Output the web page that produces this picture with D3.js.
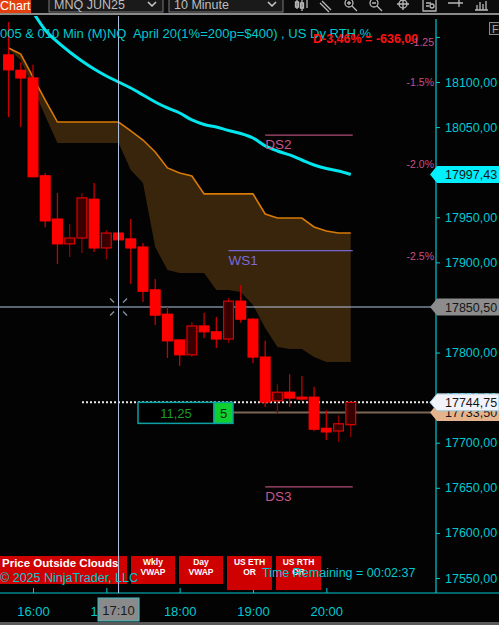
<!DOCTYPE html>
<html>
<head>
<meta charset="utf-8">
<script src="https://cdn.jsdelivr.net/npm/d3@7"></script>
<style>
body { margin: 0; background: #000; overflow: hidden; }
svg { display: block; font-family: "Liberation Sans", Arial, sans-serif; }
</style>
</head>
<body>
<svg id="chart" width="499" height="625"></svg>
<script>
// 10 minute bars, MNQ JUN25
var times = ["15:40","15:50","16:00","16:10","16:20","16:30","16:40","16:50","17:00","17:10",
             "17:20","17:30","17:40","17:50","18:00","18:10","18:20","18:30","18:40","18:50",
             "19:00","19:10","19:20","19:30","19:40","19:50","20:00","20:10","20:20"];
var opens  = [18130, 18113, 18104.5, 17996, 17948, 17920.5, 17927, 17970, 17916, 17932.5,
              17926, 17917, 17869.5, 17842.5, 17814, 17797.5, 17829.5, 17823, 17815, 17857,
              17837, 17795, 17746.5, 17756, 17750.5, 17750.5, 17716, 17713, 17720];
var highs  = [18166.5, 18122, 18119, 17999, 17977, 17942.5, 17977, 17988, 17936, 17933,
              17948, 17921.5, 17881.5, 17850.5, 17814, 17834, 17844, 17839.5, 17860.5, 17875,
              17838, 17813, 17765, 17776, 17774, 17762, 17736, 17730.5, 17746];
var lows   = [18061, 18050, 17994.5, 17939, 17898, 17906, 17910.5, 17911.5, 17903.5, 17924.5,
              17876, 17856, 17830.5, 17794, 17785, 17795, 17816, 17805, 17810.5, 17833,
              17788.5, 17739.5, 17732, 17740, 17746.5, 17713, 17703, 17701, 17706];
var closes = [18113.5, 18104.5, 17995, 17946, 17920.5, 17927, 17971.5, 17916, 17932.5, 17925,
              17916, 17868, 17841.5, 17813, 17797.5, 17829.5, 17823, 17815, 17857, 17837,
              17795, 17745, 17756, 17749.5, 17748.5, 17715, 17712, 17721, 17744.75];

// cloud band
var cloudTop = [18137.7, 18131, 18105.5, 18080, 18055.6, 18055.6, 18055.6, 18055.6, 18055.6, 18055.6,
                18045.7, 18035.7, 18022.4, 18004.7, 17999.1, 17995.8, 17975.9, 17975.9, 17975.9, 17975.9,
                17975.9, 17953.6, 17949.2, 17949.2, 17949.2, 17939.2, 17934.8, 17932.6, 17932.6];
var cloudBottom = [18136.6, 18124.4, 18093.3, 18062.3, 18032.4, 18032.4, 18032.4, 18032.4, 18032.4, 18032.4,
                   18002.4, 17988, 17917, 17891.5, 17888.2, 17888.2, 17888.2, 17869.4, 17869.4, 17867.1,
                   17852.7, 17827.2, 17806.1, 17803.9, 17803.9, 17795.1, 17789.5, 17789.5, 17789.5];

// cyan average line
var avgLine = [null, null, 18177.6, 18157.7, 18144.4, 18133.3, 18123.3, 18114.4, 18106.7, 18100,
               18093.3, 18085.6, 18077.8, 18071.2, 18065.6, 18057.9, 18052.9, 18050.1, 18046.2, 18042.9,
               18037.9, 18029.1, 18023.5, 18019.1, 18013.5, 18008, 18004.1, 18001.3, 17997.43];

// pivot levels
var levelNames  = ["DS2", "WS1", "DS3"];
var levelPrices = [18041, 17913, 17651];
var levelStart  = ["19:10", "18:40", "19:10"];

// axis ticks
var yTicks = [17550, 17600, 17650, 17700, 17750, 17800, 17850, 17900, 17950, 18000, 18050, 18100, 18150];
var xTicks = ["16:00", "17:00", "18:00", "19:00", "20:00"];

// percent labels
var pctLabels = ["-1.25", "-1.5%", "-2.0%", "-2.5%"];
var pctPrices = [18144, 18100, 18009, 17907];

// price markers on the axis
var markerPrices = [17997.43, 17850.50, 17733.50, 17744.75];
var crossPrice = 17850.50;
var crossTime = "17:10";
var lastPrice = 17744.75;
var ticksLeft = "11,25";
var barCount = "5";

var buttons = [["Wkly", "VWAP"], ["Day", "VWAP"], ["US ETH", "OR"], ["US RTH", "OR"]];

var svg = d3.select("#chart");
var W = 499, H = 625;
var axisX = 436, plotTop = 16, plotBottom = 593;
var cyan = "#00c8d0";

var parseT = d3.timeParse("%H:%M");
var x = d3.scaleTime().domain([parseT("16:00"), parseT("20:00")]).range([33, 326.3]);
var y = d3.scaleLinear().domain([17550, 18100]).range([578, 82]);
var step = x(parseT("16:10")) - x(parseT("16:00"));
var fmt = function(v) { return d3.format(".2f")(v).replace(".", ","); };

var bars = times.map(function(t, i) {
  return { t: parseT(t), o: opens[i], h: highs[i], l: lows[i], c: closes[i],
           top: cloudTop[i], bot: cloudBottom[i], v: avgLine[i] };
});

svg.append("rect").attr("width", W).attr("height", H).attr("fill", "#030303");

// ---- toolbar
var tb = svg.append("g");
tb.append("rect").attr("x", 0).attr("y", 0).attr("width", W).attr("height", 14).attr("fill", "#0c0c0c");
tb.append("rect").attr("x", 0).attr("y", -2).attr("width", 31).attr("height", 15).attr("fill", "#e4400e");
tb.append("text").attr("x", 0).attr("y", 10).attr("fill", "#fff").attr("font-size", 12.5).text("Chart");
tb.append("rect").attr("x", 49).attr("y", -3).attr("width", 114).attr("height", 15)
  .attr("fill", "#1a1a1a").attr("stroke", "#7a7a7a");
tb.append("text").attr("x", 54).attr("y", 9).attr("fill", "#bdbdbd").attr("font-size", 12.5).text("MNQ JUN25");
tb.append("path").attr("d", "M148,2 L152,6 L156,2").attr("fill", "none").attr("stroke", "#ccc").attr("stroke-width", 1.5);
tb.append("rect").attr("x", 169).attr("y", -3).attr("width", 114).attr("height", 15)
  .attr("fill", "#1a1a1a").attr("stroke", "#7a7a7a");
tb.append("text").attr("x", 174).attr("y", 9).attr("fill", "#bdbdbd").attr("font-size", 12.5).text("10 Minute");
tb.append("path").attr("d", "M268,2 L272,6 L276,2").attr("fill", "none").attr("stroke", "#ccc").attr("stroke-width", 1.5);
// icons
var ic = tb.append("g").attr("stroke", "#b8b8b8").attr("fill", "none").attr("stroke-width", 1.3);
ic.append("path").attr("d", "M297,0 V9 M302,0 V11 M307,0 V8 M295.5,2 h3 v5 h-3z M300.5,3 h3 v5 h-3z");
ic.append("path").attr("d", "M322,1 L331,10 M320,3 L329,12");
ic.append("circle").attr("cx", 349).attr("cy", 3).attr("r", 4);
ic.append("path").attr("d", "M352,6 L357,11 M347,3 h4 M349,1 v4");
ic.append("circle").attr("cx", 374).attr("cy", 3).attr("r", 4);
ic.append("path").attr("d", "M377,6 L382,11 M372,3 h4");
ic.append("circle").attr("cx", 403).attr("cy", 4).attr("r", 4);
ic.append("path").attr("d", "M403,-2 V10 M397,4 H409");
ic.append("path").attr("d", "M423,0 V11 H436 V0 M426,3 h5 M426,6 h3");
ic.append("circle").attr("cx", 432).attr("cy", 6).attr("r", 2);
ic.append("path").attr("d", "M448,3 H459 M459,0 V7 M459,3 H463");
ic.append("path").attr("d", "M475,10 H488 M477,10 V5 M480,10 V2 M483,10 V4 M486,10 V1");
svg.append("rect").attr("x", 0).attr("y", 13).attr("width", W).attr("height", 2).attr("fill", "#8a8a8a");

// ---- plot area
svg.append("clipPath").attr("id", "plotClip")
  .append("rect").attr("x", 0).attr("y", plotTop).attr("width", axisX).attr("height", plotBottom - plotTop);
var plot = svg.append("g").attr("clip-path", "url(#plotClip)");

plot.append("path").datum(bars)
  .attr("d", d3.area().x(function(d) { return x(d.t); })
    .y0(function(d) { return y(d.bot); }).y1(function(d) { return y(d.top); }))
  .attr("fill", "#38250b");
plot.append("path").datum(bars)
  .attr("d", d3.line().x(function(d) { return x(d.t); }).y(function(d) { return y(d.top); }))
  .attr("fill", "none").attr("stroke", "#d97a06").attr("stroke-width", 1.6);

plot.append("path").datum(bars)
  .attr("d", d3.line().defined(function(d) { return d.v != null; })
    .x(function(d) { return x(d.t); }).y(function(d) { return y(d.v); }).curve(d3.curveMonotoneX))
  .attr("fill", "none").attr("stroke", "#00e6ee").attr("stroke-width", 3);

// pivot lines
var levelColor = { DS2: "#b04c78", WS1: "#7464d2", DS3: "#b04c78" };
var textColor = { DS2: "#c8558a", WS1: "#7a6ad8", DS3: "#c8558a" };
var lastX = x(bars[bars.length - 1].t) + 2;
levelNames.forEach(function(n, i) {
  var x0 = x(parseT(levelStart[i])), yy = y(levelPrices[i]);
  plot.append("line").attr("x1", x0).attr("x2", lastX).attr("y1", yy).attr("y2", yy)
    .attr("stroke", levelColor[n]).attr("stroke-width", 1.2);
  plot.append("text").attr("x", x0).attr("y", yy + 14).attr("fill", textColor[n])
    .attr("font-size", 13.5).text(n);
});

// crosshair
var cx = x(parseT(crossTime)), cy = y(crossPrice);
plot.append("line").attr("x1", 0).attr("x2", axisX).attr("y1", cy).attr("y2", cy)
  .attr("stroke", "#b4c6e4").attr("stroke-width", 1);
svg.append("line").attr("x1", cx).attr("x2", cx).attr("y1", plotTop).attr("y2", plotBottom)
  .attr("stroke", "#b4c6e4").attr("stroke-width", 1);
[[-1, -1], [1, -1], [-1, 1], [1, 1]].forEach(function(s) {
  plot.append("line").attr("x1", cx + s[0] * 4.5).attr("y1", cy + s[1] * 4.5)
    .attr("x2", cx + s[0] * 8.5).attr("y2", cy + s[1] * 8.5)
    .attr("stroke", "#8c96a6").attr("stroke-width", 1.2);
});

// last price lines
plot.append("line").attr("x1", 82).attr("x2", axisX).attr("y1", y(lastPrice)).attr("y2", y(lastPrice))
  .attr("stroke", "#e8e8e8").attr("stroke-width", 2).attr("stroke-dasharray", "2,2");
plot.append("line").attr("x1", 233).attr("x2", axisX).attr("y1", y(markerPrices[2])).attr("y2", y(markerPrices[2]))
  .attr("stroke", "#7a6654").attr("stroke-width", 2);

// candles
var bw = step * 0.8;
plot.selectAll(".wick").data(bars).enter().append("line")
  .attr("x1", function(d) { return x(d.t); }).attr("x2", function(d) { return x(d.t); })
  .attr("y1", function(d) { return y(d.h); }).attr("y2", function(d) { return y(d.l); })
  .attr("stroke", function(d) { return d.c > d.o ? "#8e0000" : "#c80000"; })
  .attr("stroke-width", 1.3);
plot.selectAll(".body").data(bars).enter().append("rect")
  .attr("x", function(d) { return x(d.t) - bw / 2; })
  .attr("y", function(d) { return y(Math.max(d.o, d.c)); })
  .attr("width", bw)
  .attr("height", function(d) { return Math.max(1.5, Math.abs(y(d.o) - y(d.c))); })
  .attr("fill", function(d) { return d.c > d.o ? "#3a0000" : "#ff0000"; })
  .attr("stroke", function(d) { return d.c > d.o ? "#e00000" : "#ff0000"; })
  .attr("stroke-width", 1.2);

// ticks-remaining box
var by = y(lastPrice);
svg.append("rect").attr("x", 138).attr("y", by).attr("width", 76).attr("height", 21)
  .attr("fill", "#000").attr("stroke", "#0aa0a4").attr("stroke-width", 1.5);
svg.append("text").attr("x", 176).attr("y", by + 15.5).attr("text-anchor", "middle")
  .attr("fill", "#1f9a2a").attr("font-size", 13).text(ticksLeft);
svg.append("rect").attr("x", 214).attr("y", by).attr("width", 19).attr("height", 21)
  .attr("fill", "#10d030").attr("stroke", "#0aa0a4").attr("stroke-width", 1.5);
svg.append("text").attr("x", 223.5).attr("y", by + 15.5).attr("text-anchor", "middle")
  .attr("fill", "#0c2a0c").attr("font-size", 13).text(barCount);

// title texts
svg.append("text").attr("x", 0).attr("y", 38).attr("fill", cyan).attr("font-size", 13)
  .style("white-space", "pre")
  .text("005 & 010 Min (M)NQ  April 20(1%=200p=$400) , US Dy RTH %");
svg.append("text").attr("x", 313).attr("y", 43).attr("fill", "#ff1010").attr("font-size", 12.5)
  .attr("font-weight", "bold").text("D-3,46% = -636,00");
pctLabels.forEach(function(l, i) {
  svg.append("text").attr("x", 434).attr("y", y(pctPrices[i]) + 4).attr("text-anchor", "end")
    .attr("fill", "#c8508a").attr("font-size", 10.5).text(l);
});

// ---- y axis
svg.append("line").attr("x1", axisX).attr("x2", axisX).attr("y1", plotTop + 3).attr("y2", plotBottom)
  .attr("stroke", cyan).attr("stroke-width", 1.2);
var yAxis = svg.append("g").attr("transform", "translate(" + axisX + ",0)")
  .call(d3.axisRight(y).tickValues(yTicks).tickSize(4).tickPadding(5)
    .tickFormat(function(d) { return d > 18100 ? "" : fmt(d); }));
yAxis.select(".domain").remove();
yAxis.selectAll("line").attr("stroke", cyan);
yAxis.selectAll("text").attr("fill", cyan).attr("font-size", 12.5)
  .attr("font-family", "'Liberation Sans', Arial, sans-serif");

// axis markers
var markerFill = ["#00f0ff", "#8c8c8c", "#e6b48c", "#f2f2fa"];
markerPrices.forEach(function(p, i) {
  var yc = y(p), h = 8.5;
  svg.append("path")
    .attr("d", "M430," + yc + " L437," + (yc - h) + " L499," + (yc - h) + " L499," + (yc + h) + " L437," + (yc + h) + " Z")
    .attr("fill", markerFill[i]).attr("stroke", i == 3 ? "#9ac8d8" : "none");
  svg.append("text").attr("x", 445).attr("y", yc + 4.5).attr("fill", "#151515")
    .attr("font-size", 12.5).text(fmt(p));
});

// small box top right
svg.append("rect").attr("x", 489.5).attr("y", 22.5).attr("width", 12).attr("height", 12)
  .attr("fill", "#111").attr("stroke", "#8a8a8a");
svg.append("text").attr("x", 492).attr("y", 33).attr("fill", "#aaa").attr("font-size", 11).text("F");

// ---- x axis
svg.append("line").attr("x1", 0).attr("x2", W).attr("y1", plotBottom).attr("y2", plotBottom)
  .attr("stroke", cyan).attr("stroke-width", 1.2);
var xAxis = svg.append("g").attr("transform", "translate(0," + plotBottom + ")")
  .call(d3.axisBottom(x).tickValues(xTicks.map(parseT)).tickSizeInner(-5).tickSizeOuter(0)
    .tickPadding(14).tickFormat(d3.timeFormat("%H:%M")));
xAxis.select(".domain").remove();
xAxis.selectAll("line").attr("stroke", cyan);
xAxis.selectAll("text").attr("fill", cyan).attr("font-size", 13)
  .attr("font-family", "'Liberation Sans', Arial, sans-serif");
svg.append("rect").attr("x", cx - 20.5).attr("y", 598).attr("width", 41).attr("height", 23)
  .attr("fill", "#8a8a8a").attr("stroke", "#3fc0c8");
svg.append("text").attr("x", cx).attr("y", 614.5).attr("text-anchor", "middle")
  .attr("fill", "#1c1c1c").attr("font-size", 13).text(crossTime);
svg.append("rect").attr("x", 0).attr("y", 622).attr("width", W).attr("height", 3).attr("fill", "#5a5a5a");

// ---- bottom indicator buttons
svg.append("rect").attr("x", 0).attr("y", 556).attr("width", 127).attr("height", 28).attr("fill", "#cf0000");
svg.append("text").attr("x", 2).attr("y", 567).attr("fill", "#fff").attr("font-size", 11.5)
  .attr("font-weight", "bold").text("Price Outside Clouds");
var bx = [131, 179, 227, 276], bwid = [44, 44, 45, 45], bh = [28, 28, 34, 34];
buttons.forEach(function(b, i) {
  svg.append("rect").attr("x", bx[i]).attr("y", 556).attr("width", bwid[i]).attr("height", bh[i]).attr("fill", "#cf0000");
  svg.append("text").attr("x", bx[i] + bwid[i] / 2).attr("y", 565).attr("text-anchor", "middle")
    .attr("fill", "#fff").attr("font-size", 8.5).attr("font-weight", "bold").text(b[0]);
  svg.append("text").attr("x", bx[i] + bwid[i] / 2).attr("y", 575).attr("text-anchor", "middle")
    .attr("fill", "#fff").attr("font-size", 8.5).attr("font-weight", "bold").text(b[1]);
});
svg.append("line").attr("x1", cx).attr("x2", cx).attr("y1", 556).attr("y2", plotBottom)
  .attr("stroke", "#b4c6e4").attr("stroke-width", 1);
svg.append("text").attr("x", 0).attr("y", 582).attr("fill", cyan).attr("font-size", 12.5)
  .text("\u00a9 2025 NinjaTrader, LLC");
svg.append("text").attr("x", 262).attr("y", 577).attr("fill", cyan).attr("font-size", 12.5)
  .text("Time Remaining = 00:02:37");
</script>
</body>
</html>
